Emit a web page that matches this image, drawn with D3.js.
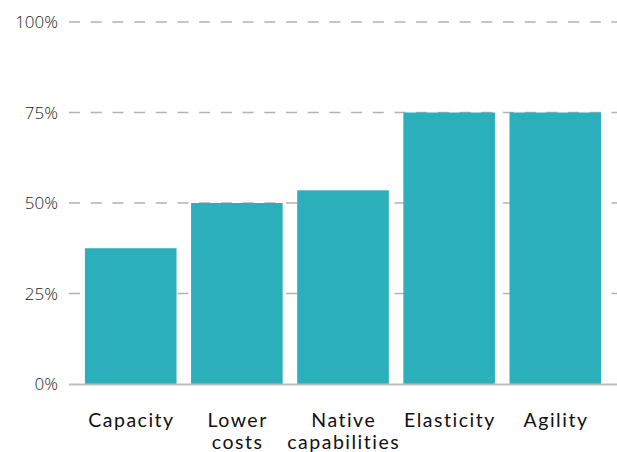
<!DOCTYPE html>
<html>
<head>
<meta charset="utf-8">
<script src="https://cdn.jsdelivr.net/npm/d3@7"></script>
<style>
  body { margin: 0; background: #fff; }
  .tick-label { font-family: "Open Sans", sans-serif; font-size: 17px; font-weight: 300; fill: #222; }
  .cat-label { font-family: Lato, sans-serif; font-size: 19.5px; font-weight: 400; fill: #111; letter-spacing: 1.5px; }
</style>
</head>
<body>
<div id="wrapper"></div>
<script>
const categories = ["Capacity", "Lower costs", "Native capabilities", "Elasticity", "Agility"]
const labelLines = [["Capacity"], ["Lower", "costs"], ["Native", "capabilities"], ["Elasticity"], ["Agility"]]
const values = [37.5, 50, 53.5, 75, 75]
const yTicks = [0, 25, 50, 75, 100]

const width = 617
const height = 452
const margin = { top: 22, right: 0, bottom: 68, left: 69 }

const svg = d3.select("#wrapper").append("svg")
    .attr("width", width)
    .attr("height", height)

const x = d3.scaleBand()
    .domain(categories)
    .range([margin.left, width - margin.right])
    .paddingInner(0.137)
    .paddingOuter(0.15)

const y = d3.scaleLinear()
    .domain([0, 100])
    .range([height - margin.bottom, margin.top])

// gridlines
svg.selectAll(".grid")
  .data(yTicks.filter(d => d > 0))
  .enter().append("line")
    .attr("x1", margin.left)
    .attr("x2", width)
    .attr("y1", d => y(d))
    .attr("y2", d => y(d))
    .attr("stroke", "#b3b3b3")
    .attr("stroke-width", 1.3)
    .attr("stroke-dasharray", "11 10.7")

svg.selectAll(".tick-label")
  .data(yTicks)
  .enter().append("text")
    .attr("class", "tick-label")
    .attr("x", 58)
    .attr("y", d => y(d))
    .attr("dy", "0.36em")
    .attr("text-anchor", "end")
    .text(d => d + "%")

// bars
svg.selectAll(".bar")
  .data(values)
  .enter().append("rect")
    .attr("x", (d, i) => x(categories[i]))
    .attr("width", x.bandwidth())
    .attr("y", d => y(d))
    .attr("height", d => y(0) - y(d))
    .attr("fill", "#2bafbb")

// baseline
svg.append("line")
    .attr("x1", margin.left)
    .attr("x2", width)
    .attr("y1", y(0) + 0.5)
    .attr("y2", y(0) + 0.5)
    .attr("stroke", "#bdbdbd")
    .attr("stroke-width", 2)

const labels = svg.selectAll(".cat-label")
  .data(categories)
  .enter().append("text")
    .attr("class", "cat-label")
    .attr("text-anchor", "middle")
    .attr("x", d => x(d) + x.bandwidth() / 2 + 0.75)
    .attr("y", 427)

labels.selectAll("tspan")
  .data((d, i) => labelLines[i])
  .enter().append("tspan")
    .attr("x", function() { return +d3.select(this.parentNode).attr("x") })
    .attr("dy", (d, i) => i === 0 ? 0 : 22)
    .text(d => d)
</script>
</body>
</html>
